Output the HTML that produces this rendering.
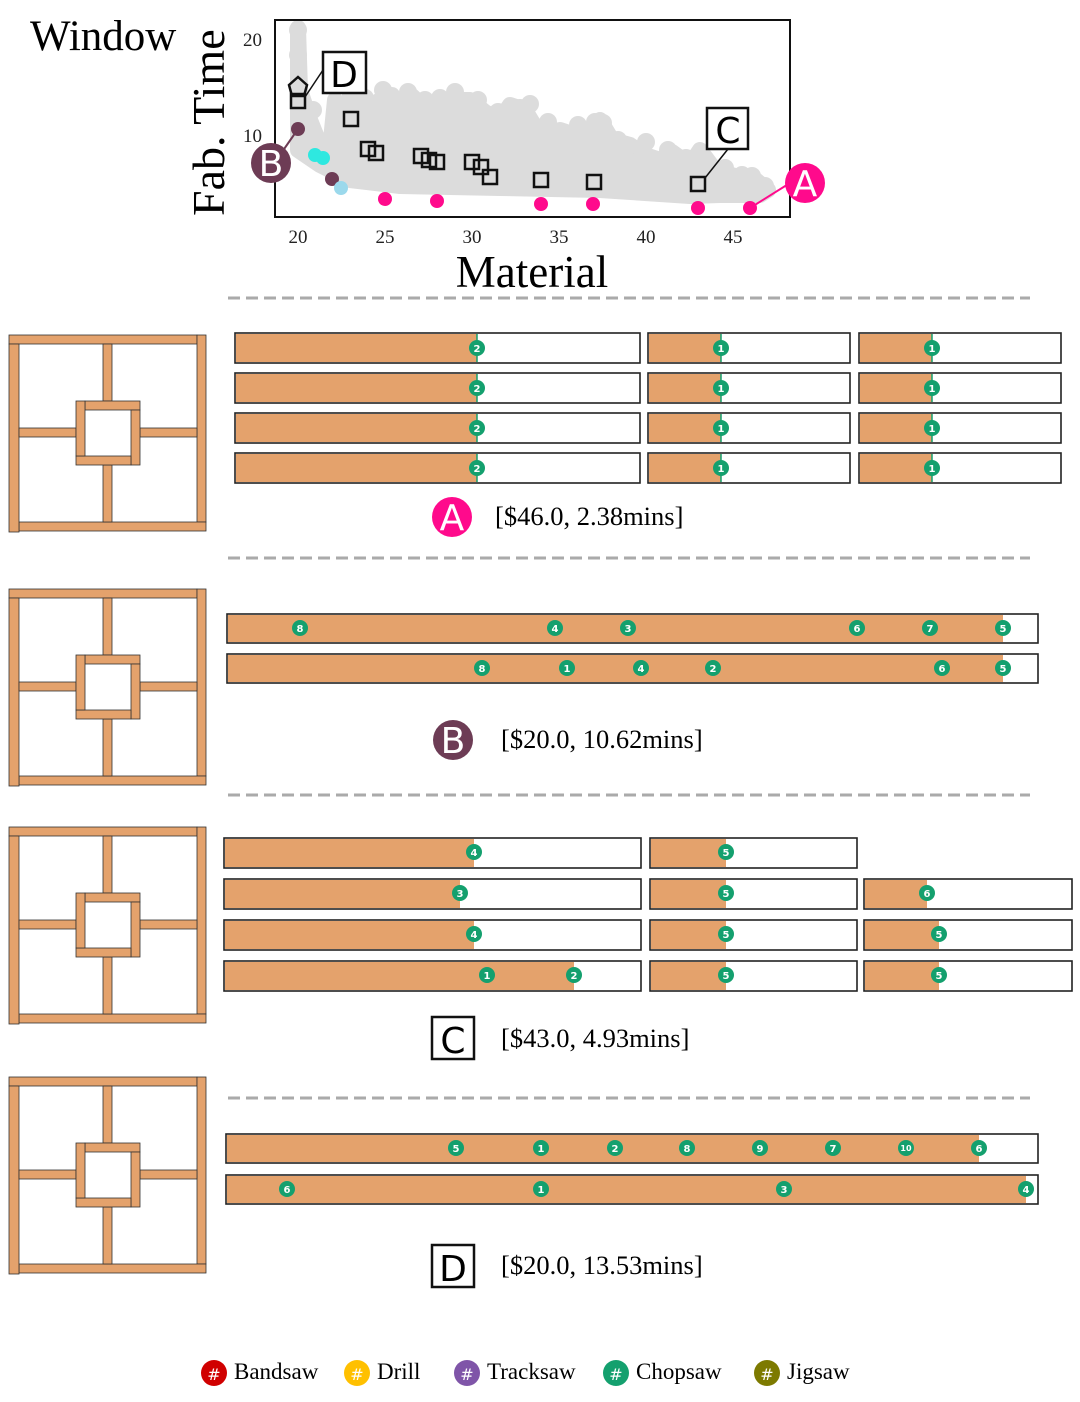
<!DOCTYPE html>
<html><head><meta charset="utf-8"><style>
html,body{margin:0;padding:0;background:#fff;}
svg{display:block;}
.s{font-family:"Liberation Serif",serif;}
.m{font-family:"DejaVu Sans","Liberation Sans",sans-serif;font-size:10px;font-weight:bold;fill:#fff;text-anchor:middle;}
.lab{font-family:"DejaVu Sans","Liberation Sans",sans-serif;fill:#fff;text-anchor:middle;}
.bar{fill:#fff;stroke:#222;stroke-width:1.6;}
.f{fill:#e4a26c;}
.wd rect{fill:#e4a26c;stroke:#333;stroke-width:0.8;}
</style></head><body>
<svg width="1080" height="1402" viewBox="0 0 1080 1402" xmlns="http://www.w3.org/2000/svg">
<defs>
<g id="win" class="wd">
<rect x="0" y="0" width="188" height="9"/>
<rect x="188" y="0" width="9" height="187"/>
<rect x="10" y="187" width="187" height="9"/>
<rect x="0" y="9" width="10" height="188"/>
<rect x="94" y="9" width="9" height="57"/>
<rect x="94" y="130" width="9" height="57"/>
<rect x="10" y="93" width="57" height="9"/>
<rect x="131" y="93" width="57" height="9"/>
<rect x="76" y="66" width="55" height="9"/>
<rect x="122" y="75" width="9" height="55"/>
<rect x="67" y="121" width="55" height="9"/>
<rect x="67" y="66" width="9" height="55"/>
</g>
</defs>

<!-- scatter -->
<text class="s" x="30" y="50" font-size="43">Window</text>
<text class="s" font-size="46" transform="translate(224,216) rotate(-90)">Fab. Time</text>
<g fill="#dcdcdc" stroke="#dcdcdc" stroke-linejoin="round" stroke-width="16">
<path d="M298,28 L300,90 L310,120 L318,140 L330,150 L335,100 L345,120 L350,95 L365,110 L380,100 L392,95 L400,105 L412,96 L425,108 L440,110 L455,100 L470,100 L485,112 L500,120 L510,105 L525,110 L540,135 L560,130 L575,135 L590,130 L600,120 L612,140 L630,145 L645,155 L660,160 L672,152 L690,165 L700,150 L715,170 L735,176 L752,177 L768,190 L760,195 L720,195 L690,196 L600,190 L500,188 L400,186 L350,180 L320,165 L298,150 Z"/>
</g>
<g fill="#dcdcdc">
<circle cx="298" cy="30" r="9"/><circle cx="298" cy="55" r="9"/><circle cx="330" cy="160" r="9"/><circle cx="395" cy="100" r="9"/><circle cx="425" cy="100" r="9"/><circle cx="470" cy="105" r="9"/><circle cx="520" cy="108" r="9"/><circle cx="603" cy="123" r="9"/><circle cx="700" cy="165" r="9"/><circle cx="752" cy="176" r="9"/><circle cx="640" cy="160" r="9"/><circle cx="560" cy="140" r="9"/>
<circle cx="313" cy="110" r="9"/><circle cx="332" cy="72" r="9"/><circle cx="348" cy="82" r="9"/><circle cx="365" cy="98" r="9"/><circle cx="383" cy="90" r="9"/><circle cx="408" cy="92" r="9"/><circle cx="440" cy="98" r="9"/><circle cx="455" cy="92" r="9"/><circle cx="478" cy="100" r="9"/><circle cx="498" cy="112" r="9"/><circle cx="530" cy="104" r="9"/><circle cx="548" cy="122" r="9"/><circle cx="578" cy="125" r="9"/><circle cx="595" cy="122" r="9"/><circle cx="618" cy="140" r="9"/><circle cx="646" cy="142" r="9"/><circle cx="668" cy="150" r="9"/><circle cx="686" cy="158" r="9"/><circle cx="725" cy="168" r="9"/><circle cx="742" cy="175" r="9"/><circle cx="765" cy="186" r="9"/>
</g>
<rect x="275" y="20" width="515" height="197" fill="none" stroke="#111" stroke-width="2"/>
<g class="s" font-size="19" fill="#222">
<text x="262" y="46" text-anchor="end">20</text>
<text x="262" y="142" text-anchor="end">10</text>
<g text-anchor="middle"><text x="298" y="243">20</text><text x="385" y="243">25</text><text x="472" y="243">30</text><text x="559" y="243">35</text><text x="646" y="243">40</text><text x="733" y="243">45</text></g>
</g>
<text class="s" x="532" y="287" font-size="45" text-anchor="middle">Material</text>
<g fill="#ff0a8c"><circle cx="385" cy="199" r="7"/><circle cx="437" cy="201" r="7"/><circle cx="541" cy="204" r="7"/><circle cx="593" cy="204" r="7"/><circle cx="698" cy="208" r="7"/><circle cx="750" cy="208" r="7"/></g>
<line x1="750" y1="208" x2="790" y2="183" stroke="#ff0a8c" stroke-width="2"/>
<circle cx="805" cy="183" r="20" fill="#ff0a8c"/><text class="lab" x="805" y="196" font-size="36">A</text>
<g fill="#6d3c55"><circle cx="298" cy="129" r="7"/><circle cx="332" cy="179" r="7"/></g>
<line x1="298" y1="129" x2="282" y2="152" stroke="#6d3c55" stroke-width="2"/>
<circle cx="271" cy="163" r="20" fill="#6d3c55"/><text class="lab" x="271" y="176" font-size="36">B</text>
<g fill="#2ee8e0"><circle cx="315" cy="155" r="7"/><circle cx="323" cy="158" r="7"/></g>
<circle cx="341" cy="188" r="7" fill="#9bd9ec"/>
<g fill="none" stroke="#111" stroke-width="2.5">
<rect x="291" y="94" width="14" height="14"/><rect x="344" y="112" width="14" height="14"/><rect x="361" y="142" width="14" height="14"/><rect x="369" y="146" width="14" height="14"/><rect x="414" y="149" width="14" height="14"/><rect x="422" y="153" width="14" height="14"/><rect x="430" y="155" width="14" height="14"/><rect x="465" y="155" width="14" height="14"/><rect x="474" y="160" width="14" height="14"/><rect x="483" y="170" width="14" height="14"/><rect x="534" y="173" width="14" height="14"/><rect x="587" y="175" width="14" height="14"/><rect x="691" y="177" width="14" height="14"/>
<polygon points="298,77 307,85 304,96 292,96 289,85"/>
<line x1="305" y1="97" x2="323" y2="70" stroke-width="1.5"/>
<line x1="705" y1="178" x2="728" y2="149" stroke-width="1.5"/>
</g>
<rect x="323" y="52" width="43" height="41" fill="#fff" stroke="#111" stroke-width="2.5"/>
<text x="344" y="87" font-family="DejaVu Sans,sans-serif" font-size="36" text-anchor="middle">D</text>
<rect x="707" y="108" width="41" height="41" fill="#fff" stroke="#111" stroke-width="2.5"/>
<text x="728" y="143" font-family="DejaVu Sans,sans-serif" font-size="36" text-anchor="middle">C</text>

<!-- dashed separators -->
<g stroke="#aaa" stroke-width="3" stroke-dasharray="12,6">
<line x1="228" y1="298" x2="1030" y2="298"/><line x1="228" y1="558" x2="1030" y2="558"/><line x1="228" y1="795" x2="1030" y2="795"/><line x1="228" y1="1098" x2="1030" y2="1098"/>
</g>

<use href="#win" x="9" y="335"/>
<use href="#win" x="9" y="589"/>
<use href="#win" x="9" y="827"/>
<use href="#win" x="9" y="1077"/>

<!-- Section A bars -->
<g>
<rect class="bar" x="235" y="333" width="405" height="30"/><rect class="f" x="236" y="334" width="241" height="28"/>
<rect class="bar" x="648" y="333" width="202" height="30"/><rect class="f" x="649" y="334" width="72" height="28"/>
<rect class="bar" x="859" y="333" width="202" height="30"/><rect class="f" x="860" y="334" width="72" height="28"/>
<rect class="bar" x="235" y="373" width="405" height="30"/><rect class="f" x="236" y="374" width="241" height="28"/>
<rect class="bar" x="648" y="373" width="202" height="30"/><rect class="f" x="649" y="374" width="72" height="28"/>
<rect class="bar" x="859" y="373" width="202" height="30"/><rect class="f" x="860" y="374" width="72" height="28"/>
<rect class="bar" x="235" y="413" width="405" height="30"/><rect class="f" x="236" y="414" width="241" height="28"/>
<rect class="bar" x="648" y="413" width="202" height="30"/><rect class="f" x="649" y="414" width="72" height="28"/>
<rect class="bar" x="859" y="413" width="202" height="30"/><rect class="f" x="860" y="414" width="72" height="28"/>
<rect class="bar" x="235" y="453" width="405" height="30"/><rect class="f" x="236" y="454" width="241" height="28"/>
<rect class="bar" x="648" y="453" width="202" height="30"/><rect class="f" x="649" y="454" width="72" height="28"/>
<rect class="bar" x="859" y="453" width="202" height="30"/><rect class="f" x="860" y="454" width="72" height="28"/>
</g>
<!-- Section B bars -->
<rect class="bar" x="227" y="614" width="811" height="29"/><rect class="f" x="228" y="615" width="775" height="27"/>
<rect class="bar" x="227" y="654" width="811" height="29"/><rect class="f" x="228" y="655" width="775" height="27"/>
<!-- Section C bars -->
<rect class="bar" x="224" y="838" width="417" height="30"/><rect class="f" x="225" y="839" width="249" height="28"/>
<rect class="bar" x="650" y="838" width="207" height="30"/><rect class="f" x="651" y="839" width="75" height="28"/>
<rect class="bar" x="224" y="879" width="417" height="30"/><rect class="f" x="225" y="880" width="235" height="28"/>
<rect class="bar" x="650" y="879" width="207" height="30"/><rect class="f" x="651" y="880" width="75" height="28"/>
<rect class="bar" x="864" y="879" width="208" height="30"/><rect class="f" x="865" y="880" width="62" height="28"/>
<rect class="bar" x="224" y="920" width="417" height="30"/><rect class="f" x="225" y="921" width="249" height="28"/>
<rect class="bar" x="650" y="920" width="207" height="30"/><rect class="f" x="651" y="921" width="75" height="28"/>
<rect class="bar" x="864" y="920" width="208" height="30"/><rect class="f" x="865" y="921" width="74" height="28"/>
<rect class="bar" x="224" y="961" width="417" height="30"/><rect class="f" x="225" y="962" width="349" height="28"/>
<rect class="bar" x="650" y="961" width="207" height="30"/><rect class="f" x="651" y="962" width="75" height="28"/>
<rect class="bar" x="864" y="961" width="208" height="30"/><rect class="f" x="865" y="962" width="74" height="28"/>
<!-- Section D bars -->
<rect class="bar" x="226" y="1134" width="812" height="29"/><rect class="f" x="227" y="1135" width="752" height="27"/>
<rect class="bar" x="226" y="1175" width="812" height="29"/><rect class="f" x="227" y="1176" width="799" height="27"/>

<!-- markers -->
<g fill="#14a06e">
<g stroke="#14a06e" stroke-width="1.5">
<line x1="477" y1="334" x2="477" y2="362"/><line x1="721" y1="334" x2="721" y2="362"/><line x1="932" y1="334" x2="932" y2="362"/>
<line x1="477" y1="374" x2="477" y2="402"/><line x1="721" y1="374" x2="721" y2="402"/><line x1="932" y1="374" x2="932" y2="402"/>
<line x1="477" y1="414" x2="477" y2="442"/><line x1="721" y1="414" x2="721" y2="442"/><line x1="932" y1="414" x2="932" y2="442"/>
<line x1="477" y1="454" x2="477" y2="482"/><line x1="721" y1="454" x2="721" y2="482"/><line x1="932" y1="454" x2="932" y2="482"/>
</g>
<circle cx="477" cy="348" r="8"/><circle cx="721" cy="348" r="8"/><circle cx="932" cy="348" r="8"/>
<circle cx="477" cy="388" r="8"/><circle cx="721" cy="388" r="8"/><circle cx="932" cy="388" r="8"/>
<circle cx="477" cy="428" r="8"/><circle cx="721" cy="428" r="8"/><circle cx="932" cy="428" r="8"/>
<circle cx="477" cy="468" r="8"/><circle cx="721" cy="468" r="8"/><circle cx="932" cy="468" r="8"/>
<circle cx="300" cy="628" r="8"/><circle cx="555" cy="628" r="8"/><circle cx="628" cy="628" r="8"/><circle cx="857" cy="628" r="8"/><circle cx="930" cy="628" r="8"/><circle cx="1003" cy="628" r="8"/>
<circle cx="482" cy="668" r="8"/><circle cx="567" cy="668" r="8"/><circle cx="641" cy="668" r="8"/><circle cx="713" cy="668" r="8"/><circle cx="942" cy="668" r="8"/><circle cx="1003" cy="668" r="8"/>
<circle cx="474" cy="852" r="8"/><circle cx="726" cy="852" r="8"/>
<circle cx="460" cy="893" r="8"/><circle cx="726" cy="893" r="8"/><circle cx="927" cy="893" r="8"/>
<circle cx="474" cy="934" r="8"/><circle cx="726" cy="934" r="8"/><circle cx="939" cy="934" r="8"/>
<circle cx="487" cy="975" r="8"/><circle cx="574" cy="975" r="8"/><circle cx="726" cy="975" r="8"/><circle cx="939" cy="975" r="8"/>
<circle cx="456" cy="1148" r="8"/><circle cx="541" cy="1148" r="8"/><circle cx="615" cy="1148" r="8"/><circle cx="687" cy="1148" r="8"/><circle cx="760" cy="1148" r="8"/><circle cx="833" cy="1148" r="8"/><circle cx="906" cy="1148" r="8"/><circle cx="979" cy="1148" r="8"/>
<circle cx="287" cy="1189" r="8"/><circle cx="541" cy="1189" r="8"/><circle cx="784" cy="1189" r="8"/><circle cx="1026" cy="1189" r="8"/>
</g>
<g class="m">
<text x="477" y="352">2</text><text x="721" y="352">1</text><text x="932" y="352">1</text>
<text x="477" y="392">2</text><text x="721" y="392">1</text><text x="932" y="392">1</text>
<text x="477" y="432">2</text><text x="721" y="432">1</text><text x="932" y="432">1</text>
<text x="477" y="472">2</text><text x="721" y="472">1</text><text x="932" y="472">1</text>
<text x="300" y="632">8</text><text x="555" y="632">4</text><text x="628" y="632">3</text><text x="857" y="632">6</text><text x="930" y="632">7</text><text x="1003" y="632">5</text>
<text x="482" y="672">8</text><text x="567" y="672">1</text><text x="641" y="672">4</text><text x="713" y="672">2</text><text x="942" y="672">6</text><text x="1003" y="672">5</text>
<text x="474" y="856">4</text><text x="726" y="856">5</text>
<text x="460" y="897">3</text><text x="726" y="897">5</text><text x="927" y="897">6</text>
<text x="474" y="938">4</text><text x="726" y="938">5</text><text x="939" y="938">5</text>
<text x="487" y="979">1</text><text x="574" y="979">2</text><text x="726" y="979">5</text><text x="939" y="979">5</text>
<text x="456" y="1152">5</text><text x="541" y="1152">1</text><text x="615" y="1152">2</text><text x="687" y="1152">8</text><text x="760" y="1152">9</text><text x="833" y="1152">7</text><text x="906" y="1151" font-size="8">10</text><text x="979" y="1152">6</text>
<text x="287" y="1193">6</text><text x="541" y="1193">1</text><text x="784" y="1193">3</text><text x="1026" y="1193">4</text>
</g>

<!-- section labels -->
<circle cx="452" cy="517" r="20" fill="#ff0a8c"/><text class="lab" x="452" y="530" font-size="36">A</text>
<text class="s" x="495" y="525" font-size="26.5">[$46.0, 2.38mins]</text>
<circle cx="453" cy="740" r="20" fill="#6d3c55"/><text class="lab" x="453" y="753" font-size="36">B</text>
<text class="s" x="501" y="748" font-size="26.5">[$20.0, 10.62mins]</text>
<rect x="432" y="1017" width="42" height="42" fill="#fff" stroke="#111" stroke-width="2.5"/>
<text x="453" y="1053" font-family="DejaVu Sans,sans-serif" font-size="36" text-anchor="middle">C</text>
<text class="s" x="501" y="1047" font-size="26.5">[$43.0, 4.93mins]</text>
<rect x="432" y="1245" width="42" height="42" fill="#fff" stroke="#111" stroke-width="2.5"/>
<text x="453" y="1281" font-family="DejaVu Sans,sans-serif" font-size="36" text-anchor="middle">D</text>
<text class="s" x="501" y="1274" font-size="26.5">[$20.0, 13.53mins]</text>

<!-- legend -->
<circle cx="214" cy="1373" r="13" fill="#d00000"/><text class="lab" x="214" y="1380" font-size="16">#</text>
<text class="s" x="234" y="1379" font-size="23">Bandsaw</text>
<circle cx="357" cy="1373" r="13" fill="#ffc000"/><text class="lab" x="357" y="1380" font-size="16">#</text>
<text class="s" x="377" y="1379" font-size="23">Drill</text>
<circle cx="467" cy="1373" r="13" fill="#7f55a8"/><text class="lab" x="467" y="1380" font-size="16">#</text>
<text class="s" x="487" y="1379" font-size="23">Tracksaw</text>
<circle cx="616" cy="1373" r="13" fill="#14a06e"/><text class="lab" x="616" y="1380" font-size="16">#</text>
<text class="s" x="636" y="1379" font-size="23">Chopsaw</text>
<circle cx="767" cy="1373" r="13" fill="#7d7a00"/><text class="lab" x="767" y="1380" font-size="16">#</text>
<text class="s" x="787" y="1379" font-size="23">Jigsaw</text>
</svg>
</body></html>
